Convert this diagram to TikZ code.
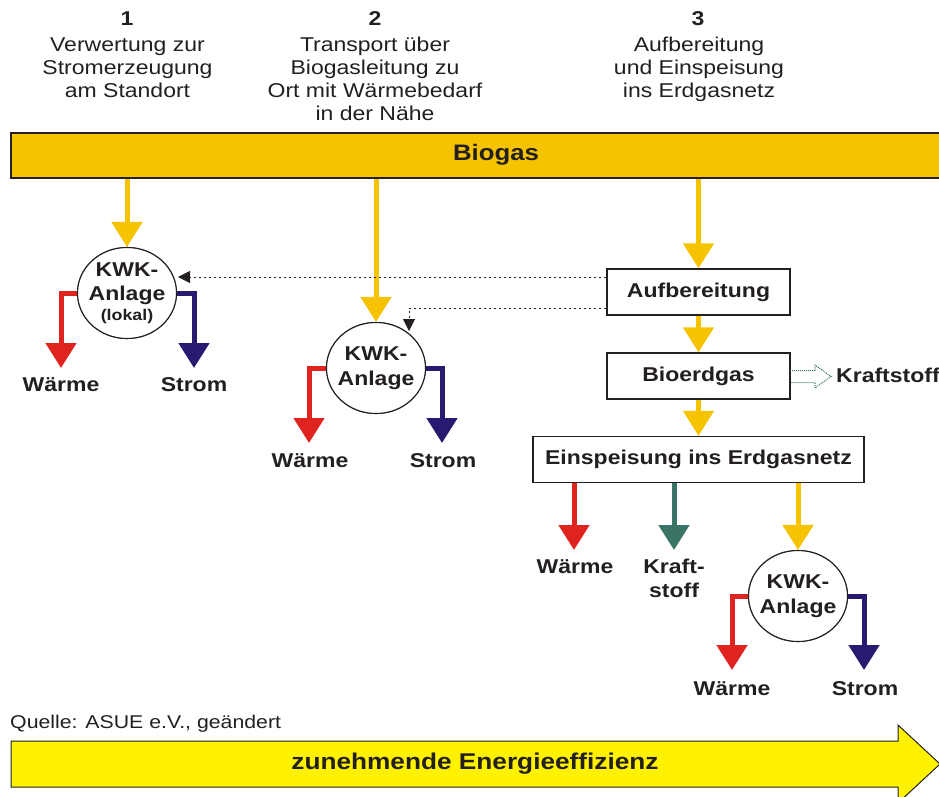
\documentclass[tikz,border=0pt]{standalone}
\usepackage{fontspec}
\setmainfont[FakeStretch=1.15]{Liberation Sans}
\usetikzlibrary{arrows.meta,shapes.geometric,calc}
\definecolor{bargold}{HTML}{F5C300}
\definecolor{warmred}{HTML}{DF2420}
\definecolor{stromblue}{HTML}{261B70}
\definecolor{kraftteal}{HTML}{3A7467}
\definecolor{effyellow}{HTML}{FFF200}
\definecolor{ink}{HTML}{231F20}
\begin{document}
\begin{tikzpicture}[x=1pt,y=-1pt,
  every node/.style={text=ink, inner sep=0pt},
  hdr/.style={font=\fontsize{20}{23}\selectfont, anchor=base},
  hdrnum/.style={font=\bfseries\fontsize{20}{23}\selectfont, anchor=base},
  lbl/.style={font=\bfseries\fontsize{20}{23}\selectfont, anchor=base},
  kwk/.style={ellipse, draw=ink, line width=1.1pt, fill=white, inner sep=-12pt, minimum width=99pt,
    minimum height=91pt, align=center, font=\bfseries\fontsize{20}{24.5}\selectfont},
  procbox/.style={rectangle, draw=ink, line width=1.3pt, fill=white, minimum height=46pt,
    text height=14.3pt, text depth=4.3pt, font=\bfseries\fontsize{20}{23}\selectfont},
  flow/.style={line width=5pt, -{Triangle[width=30pt,length=25pt]}},
  gasflow/.style={flow, draw=bargold},
  heatflow/.style={flow, draw=warmred},
  powerflow/.style={flow, draw=stromblue},
  fuelflow/.style={flow, draw=kraftteal},
  dotflow/.style={draw=ink, line width=1pt, dash pattern=on 2.5pt off 2.5pt,
    -{Triangle[width=12pt,length=12pt]}},
  fuelhint/.style={draw=kraftteal, line width=1pt, densely dotted},
]
\useasboundingbox (0,0) rectangle (939,797);
\clip (0,0) rectangle (939,797);

% headers
\node[hdrnum] (h1n) at (127,26) {1};
\node[hdr] (h1a) at (127.5,52) {Verwertung zur};
\node[hdr] (h1b) at (127.5,75) {Stromerzeugung};
\node[hdr] (h1c) at (127.5,98) {am Standort};
\node[hdrnum] (h2n) at (375,26) {2};
\node[hdr] (h2a) at (375,52) {Transport über};
\node[hdr] (h2b) at (375,75) {Biogasleitung zu};
\node[hdr] (h2c) at (375,98) {Ort mit Wärmebedarf};
\node[hdr] (h2d) at (375,121) {in der Nähe};
\node[hdrnum] (h3n) at (698,26) {3};
\node[hdr] (h3a) at (699,52) {Aufbereitung};
\node[hdr] (h3b) at (699,75) {und Einspeisung};
\node[hdr] (h3c) at (699,98) {ins Erdgasnetz};

% biogas bar
\node[rectangle, draw=ink, line width=1.3pt, fill=bargold, minimum width=970pt, minimum height=45pt,
  text height=14.3pt, text depth=4.3pt, font=\bfseries\fontsize{22.4}{26}\selectfont]
  (bar) at (496,155.5) {Biogas};

% process boxes
\node[procbox, minimum width=183pt] (auf) at (698.5,292) {Aufbereitung};
\node[procbox, minimum width=183pt] (bio) at (698.5,376) {Bioerdgas};
\node[procbox, minimum width=331pt] (ein) at (698.5,459.5) {Einspeisung ins Erdgasnetz};

% KWK plant positions
\coordinate (c1pos) at (127,293);
\coordinate (c2pos) at (376,368);
\coordinate (c3pos) at (798,596);

% tip coordinates
\coordinate (w1) at (61,368);
\coordinate (s1) at (194,368);
\coordinate (w2) at (309,443);
\coordinate (s2) at (442,443);
\coordinate (w3) at (732,670);
\coordinate (s3) at (864,670);
\coordinate (we) at (574,550);
\coordinate (ke) at (674,550);

\node[kwk] (c1) at (c1pos) {KWK-\\Anlage\\[-5pt]{\fontsize{15.5}{18}\selectfont(lokal)}};
\node[kwk] (c2) at (c2pos) {KWK-\\Anlage};
\node[kwk] (c3) at (c3pos) {KWK-\\Anlage};

% flows from biogas bar
\draw[gasflow] (c1.north |- bar.south) -- (c1.north);
\draw[gasflow] (c2.north |- bar.south) -- (c2.north);
\draw[gasflow] (auf.north |- bar.south) -- (auf.north);
\draw[gasflow] (auf.south) -- (bio.north);
\draw[gasflow] (bio.south) -- (ein.north);
\draw[gasflow] (c3.north |- ein.south) -- (c3.north);
\draw[heatflow] (ein.south -| we) -- (we);
\draw[fuelflow] (ein.south -| ke) -- (ke);

% outputs of KWK
\draw[heatflow] (c1.west) -| (w1);
\draw[powerflow] (c1.east) -| (s1);
\draw[heatflow] (c2.west) -| (w2);
\draw[powerflow] (c2.east) -| (s2);
\draw[heatflow] (c3.west) -| (w3);
\draw[powerflow] (c3.east) -| (s3);

% redraw circles on top of the shaft starts
\node[kwk] at (c1pos) {KWK-\\Anlage\\[-5pt]{\fontsize{15.5}{18}\selectfont(lokal)}};
\node[kwk] at (c2pos) {KWK-\\Anlage};
\node[kwk] at (c3pos) {KWK-\\Anlage};

% dotted connections from Aufbereitung
\coordinate (d1) at (178,277);
\coordinate (d2) at (409,331);
\draw[dotflow] ([yshift=15pt]auf.west) -- (d1);
\draw[dotflow] ([yshift=-16pt]auf.west) -| (d2);

% hollow dotted arrow to Kraftstoff
\coordinate (k1) at (790,370.5);
\coordinate (k2) at (815,370.5);
\coordinate (k3) at (815,365);
\coordinate (k4) at (831,376.5);
\coordinate (k5) at (815,388);
\coordinate (k6) at (815,382.5);
\coordinate (k7) at (790,382.5);
\draw[fuelhint] (k1) -- (k2) -- (k3) -- (k4) -- (k5) -- (k6) -- (k7);
\node[lbl, anchor=base west] (kraft) at (836,382) {Kraftstoff};

% labels
\node[lbl] (lw1) at (61,391) {Wärme};
\node[lbl] (ls1) at (194,391) {Strom};
\node[lbl] (lw2) at (310,467) {Wärme};
\node[lbl] (ls2) at (443,467) {Strom};
\node[lbl] (lwe) at (575,573) {Wärme};
\node[lbl] (lke1) at (674,573) {Kraft-};
\node[lbl] (lke2) at (674,597) {stoff};
\node[lbl] (lw3) at (732,695) {Wärme};
\node[lbl] (ls3) at (865,695) {Strom};

% source
\node[anchor=base west, font=\fontsize{18.5}{22}\selectfont] (src) at (10,728) {Quelle: ASUE e.V., geändert};

% efficiency arrow
\coordinate (e1) at (11,741);
\coordinate (e2) at (898,741);
\coordinate (e3) at (898,725);
\coordinate (e4) at (940,764);
\coordinate (e5) at (898,803);
\coordinate (e6) at (898,787);
\coordinate (e7) at (11,787);
\draw[ink, line width=1pt, fill=effyellow] (e1) -- (e2) -- (e3) -- (e4) -- (e5) -- (e6) -- (e7) -- cycle;
\node[font=\bfseries\fontsize{22.8}{26}\selectfont, text height=16pt, text depth=4.5pt] (eff) at (475,764) {zunehmende Energieeffizienz};
\end{tikzpicture}
\end{document}
